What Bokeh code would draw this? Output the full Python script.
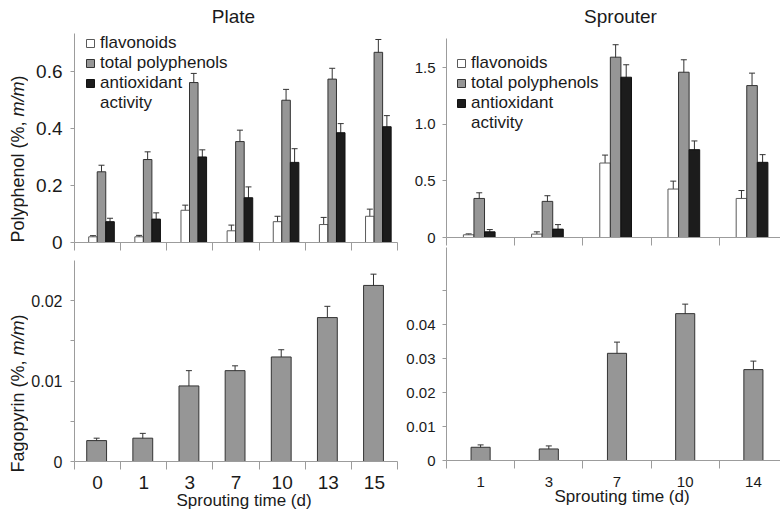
import math
from bokeh.plotting import figure
from bokeh.models import (ColumnDataSource, Whisker, TeeHead, FixedTicker, Range1d,
                          Legend, LegendItem, Title)
from bokeh.core.properties import value
from bokeh.layouts import row, column
from bokeh.embed import file_html
from bokeh.resources import INLINE

# ---------------- data ----------------
plate_days = ["0", "1", "3", "7", "10", "13", "15"]
plate_flav = [0.020, 0.020, 0.113, 0.041, 0.073, 0.063, 0.092]
plate_flav_err = [0.004, 0.005, 0.018, 0.020, 0.019, 0.025, 0.025]
plate_total = [0.248, 0.291, 0.561, 0.354, 0.499, 0.573, 0.667]
plate_total_err = [0.023, 0.027, 0.032, 0.040, 0.038, 0.038, 0.045]
plate_antiox = [0.073, 0.082, 0.300, 0.157, 0.281, 0.385, 0.406]
plate_antiox_err = [0.012, 0.022, 0.025, 0.038, 0.048, 0.032, 0.039]
plate_fago = [0.0026, 0.0029, 0.0094, 0.0113, 0.0130, 0.0179, 0.0219]
plate_fago_err = [0.0003, 0.0006, 0.0019, 0.0006, 0.0009, 0.0014, 0.0014]

sprouter_days = ["1", "3", "7", "10", "14"]
spr_flav = [0.024, 0.030, 0.658, 0.428, 0.345]
spr_flav_err = [0.008, 0.020, 0.070, 0.070, 0.070]
spr_total = [0.345, 0.319, 1.593, 1.460, 1.342]
spr_total_err = [0.050, 0.050, 0.110, 0.110, 0.110]
spr_antiox = [0.050, 0.074, 1.416, 0.776, 0.664]
spr_antiox_err = [0.020, 0.040, 0.110, 0.077, 0.068]
spr_fago = [0.0039, 0.0034, 0.0316, 0.0433, 0.0268]
spr_fago_err = [0.0007, 0.0009, 0.0033, 0.0028, 0.0025]

poly_plate_ticks = [0, 0.2, 0.4, 0.6]
poly_plate_labels = ["0", "0.2", "0.4", "0.6"]
poly_spr_ticks = [0, 0.5, 1.0, 1.5]
poly_spr_labels = ["0", "0.5", "1.0", "1.5"]
fago_plate_ticks = [0, 0.01, 0.02]
fago_plate_labels = ["0", "0.01", "0.02"]
fago_plate_minor = [0.005, 0.015]
fago_spr_ticks = [0, 0.01, 0.02, 0.03, 0.04]
fago_spr_labels = ["0", "0.01", "0.02", "0.03", "0.04"]
fago_spr_minor = [0.05]

series_names = ["flavonoids", "total polyphenols", "antioxidant"]
series_extra = "activity"
panel_titles = ["Plate", "Sprouter"]
x_title = "Sprouting time (d)"

# ---------------- styles ----------------
FONT = "Liberation Sans"
TXT = "#1a1a1a"
AXIS = "#9c9c9c"
FILLS = ["#ffffff", "#969696", "#1c1c1c"]
LINES = ["#5a5a5a", "#333333", "#111111"]
ERR = "#333333"

TOTAL_W, TOTAL_H, TOP_H, LEFT_W = 780, 516, 30, 28
SPLIT_L, SPLIT_R = 257, 247   # page y where top and bottom panels meet


def base_fig(w, h, xend, yend, bl, br, bt, bb):
    p = figure(width=w, height=h, x_range=Range1d(0, xend), y_range=Range1d(0, yend),
               output_backend="svg", toolbar_location=None,
               min_border_left=bl, min_border_right=br, min_border_top=bt, min_border_bottom=bb)
    p.outline_line_color = None
    p.grid.visible = False
    p.background_fill_color = "white"
    p.border_fill_color = "white"
    return p


def strip_fig(w, h):
    p = figure(width=w, height=h, x_range=Range1d(0, w), y_range=Range1d(0, h),
               x_axis_type=None, y_axis_type=None, output_backend="svg",
               toolbar_location=None, min_border=0)
    p.outline_line_color = None
    p.grid.visible = False
    return p


def style_xaxis(p, ncat, labels, size, standoff):
    ax = p.xaxis[0]
    centers = [i + 0.5 for i in range(ncat)]
    bounds = [float(i) for i in range(ncat + 1)]
    ax.ticker = FixedTicker(ticks=centers, minor_ticks=bounds)
    labs = labels if labels else [""] * ncat
    ax.major_label_overrides = {c: lab for c, lab in zip(centers, labs)}
    ax.major_tick_out = 0
    ax.major_tick_in = 0
    ax.minor_tick_out = 8
    ax.minor_tick_in = 0
    ax.minor_tick_line_color = AXIS
    ax.axis_line_color = AXIS
    ax.major_label_text_font = FONT
    ax.major_label_text_font_size = size
    ax.major_label_text_color = TXT
    ax.major_label_standoff = standoff


def style_yaxis(p, ticks, labels, minor, size, standoff):
    ax = p.yaxis[0]
    ax.ticker = FixedTicker(ticks=ticks, minor_ticks=minor)
    ax.major_label_overrides = {t: l for t, l in zip(ticks, labels)}
    ax.major_tick_out = 4
    ax.major_tick_in = 0
    ax.minor_tick_out = 4
    ax.minor_tick_in = 0
    ax.major_tick_line_color = AXIS
    ax.minor_tick_line_color = AXIS
    ax.axis_line_color = AXIS
    ax.major_label_text_font = FONT
    ax.major_label_text_font_size = size
    ax.major_label_text_color = TXT
    ax.major_label_standoff = standoff


def add_bars(p, xs, vals, errs, width, fill, line):
    src = ColumnDataSource(dict(x=xs, top=vals,
                                upper=[v + e for v, e in zip(vals, errs)],
                                lower=[v - e for v, e in zip(vals, errs)]))
    r = p.vbar(x="x", top="top", bottom=0, width=width, source=src,
               fill_color=fill, line_color=line, line_width=1)
    w = Whisker(source=src, base="x", upper="upper", lower="lower", dimension="height",
                line_color=ERR, line_width=1,
                upper_head=TeeHead(size=6, line_color=ERR, line_width=1),
                lower_head=TeeHead(size=6, line_color=ERR, line_width=1))
    p.add_layout(w)
    return r


def grouped(p, ncat, series, center, bw):
    rs = []
    for k, (vals, errs) in enumerate(series):
        xs = [i + center + (k - 1) * bw for i in range(ncat)]
        rs.append(add_bars(p, xs, vals, errs, bw, FILLS[k], LINES[k]))
    return rs


def add_legend(p, rs, x, y):
    dummy = p.vbar(x=[], top=[], width=0.1, fill_alpha=0, line_alpha=0)
    items = [LegendItem(label=n, renderers=[r]) for n, r in zip(series_names, rs)]
    items.append(LegendItem(label=series_extra, renderers=[dummy]))
    lg = Legend(items=items, location=(x, y), glyph_width=10, glyph_height=10,
                label_height=20, label_standoff=5, spacing=0, padding=0, margin=0,
                label_text_font=FONT, label_text_font_size="17px", label_text_color=TXT,
                background_fill_alpha=0, border_line_alpha=0)
    p.add_layout(lg)


def put_text(p, s, x, y, size, angle=0.0, align="center", style="normal"):
    p.text(x=[x], y=[y], text=[s], angle=angle, text_align=align, text_baseline="middle",
           text_font=value(FONT), text_font_size=size, text_color=TXT,
           text_font_style=style)


def xtitle(p, offset, standoff):
    t = Title(text=x_title, align="left", offset=offset, standoff=standoff,
              vertical_align="top", text_font=FONT, text_font_size="17px",
              text_font_style="normal", text_color=TXT)
    p.add_layout(t, "below")


NAME_EM = {"Polyphenol": 4.947, "Fagopyrin": 4.446}


def ytitle(p, name, x, y0, size_px):
    # rotated title with italic m/m, reading bottom -> top
    w1 = (NAME_EM[name] + 0.278 + 0.333 + 0.889 + 0.278 + 0.278) * size_px
    w2 = 1.944 * size_px
    sz = f"{size_px}px"
    put_text(p, name + " (%,", x, y0, sz, angle=math.pi / 2, align="left")
    put_text(p, "m/m", x, y0 + w1, sz, angle=math.pi / 2, align="left", style="italic")
    put_text(p, ")", x, y0 + w1 + w2, sz, angle=math.pi / 2, align="left")


# ---------------- title strip ----------------
top = strip_fig(TOTAL_W, TOP_H)
put_text(top, panel_titles[0], 233, TOP_H - 16, "19px")
put_text(top, panel_titles[1], 620, TOP_H - 16, "19px")

# ---------------- y-title strip ----------------
side_h = TOTAL_H - TOP_H
side = strip_fig(LEFT_W, side_h)
ytitle(side, "Polyphenol", 17.5, TOTAL_H - 242, 18)
ytitle(side, "Fagopyrin", 17.5, TOTAL_H - 472, 18)

LW = 400 - LEFT_W
RW = TOTAL_W - 400

# ---------------- Plate / polyphenols ----------------
n1 = len(plate_days)
h1 = SPLIT_L - TOP_H
p1 = base_fig(LW, h1, n1, 0.733, 70 - LEFT_W, 3, 3, SPLIT_L - 242)
rs1 = grouped(p1, n1, [(plate_flav, plate_flav_err), (plate_total, plate_total_err),
                       (plate_antiox, plate_antiox_err)], 0.585, 0.185)
style_xaxis(p1, n1, None, "1px", 0)
style_yaxis(p1, poly_plate_ticks, poly_plate_labels, [], "19px", 8)
add_legend(p1, rs1, 11, 129)

# ---------------- Plate / fagopyrin ----------------
h3 = TOTAL_H - SPLIT_L
p3 = base_fig(LW, h3, n1, 0.025, 72 - LEFT_W, 2, 260 - SPLIT_L, TOTAL_H - 461)
add_bars(p3, [i + 0.48 for i in range(n1)], plate_fago, plate_fago_err, 0.43, FILLS[1], LINES[1])
style_xaxis(p3, n1, plate_days, "19px", 6)
style_yaxis(p3, fago_plate_ticks, fago_plate_labels, fago_plate_minor, "16px", 8)
xtitle(p3, 102, -2)

# ---------------- Sprouter / polyphenols ----------------
n2 = len(sprouter_days)
cat_px = 68.2
xend2 = (TOTAL_W - 446) / cat_px
h2 = SPLIT_R - TOP_H
p2 = base_fig(RW, h2, xend2, 1.758, 46, 0, 38 - TOP_H, SPLIT_R - 237)
rs2 = grouped(p2, n2, [(spr_flav, spr_flav_err), (spr_total, spr_total_err),
                       (spr_antiox, spr_antiox_err)], 0.48, 0.155)
style_xaxis(p2, n2, None, "1px", 0)
style_yaxis(p2, poly_spr_ticks, poly_spr_labels, [], "15px", 7)
add_legend(p2, rs2, 10, 104)

# ---------------- Sprouter / fagopyrin ----------------
h4 = TOTAL_H - SPLIT_R
p4 = base_fig(RW, h4, xend2, (460 - SPLIT_R) / 3392.0, 46, 0, 0, TOTAL_H - 460)
add_bars(p4, [i + 0.5 for i in range(n2)], spr_fago, spr_fago_err, 0.28, FILLS[1], LINES[1])
style_xaxis(p4, n2, sprouter_days, "15px", 8)
style_yaxis(p4, fago_spr_ticks, fago_spr_labels, fago_spr_minor, "15px", 7)
xtitle(p4, 108, -6)

layout = column(top, row(side, column(p1, p3), column(p2, p4)))
open("out.html", "w").write(file_html(layout, INLINE, "Plate vs Sprouter"))
